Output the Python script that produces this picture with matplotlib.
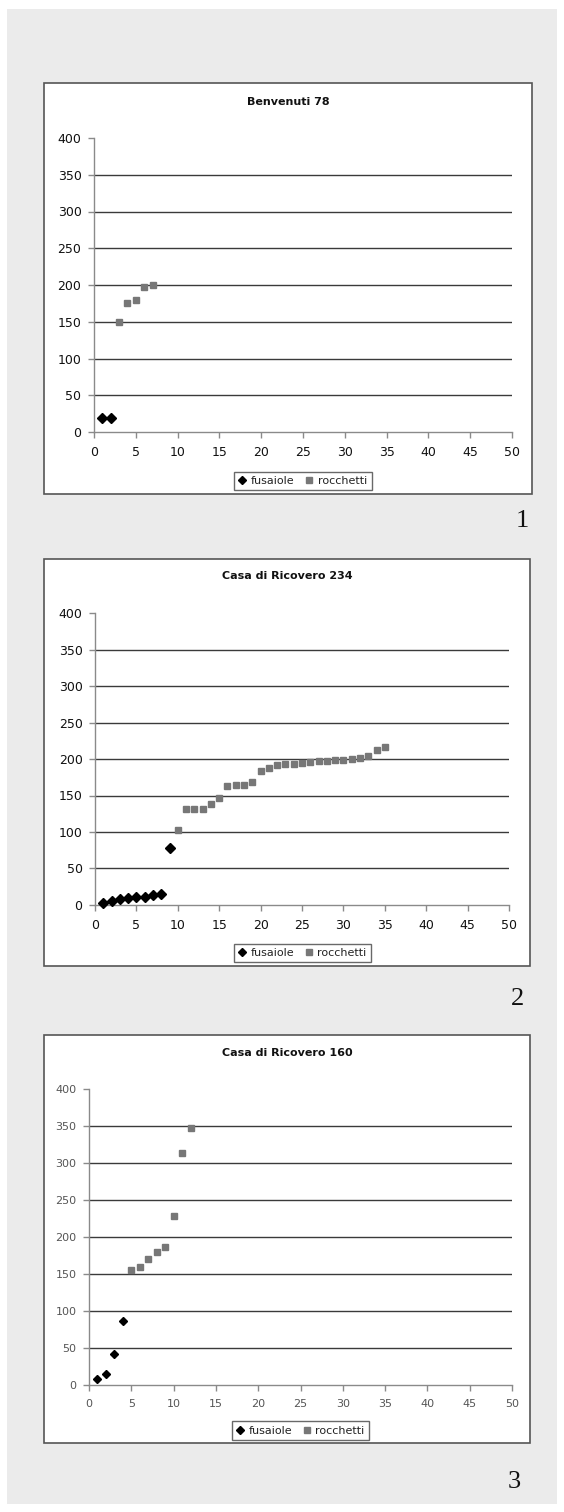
import matplotlib
matplotlib.use("Agg")
import matplotlib.pyplot as plt
from matplotlib.patches import Rectangle
from matplotlib.lines import Line2D

W, H = 564, 1512

# --- data -------------------------------------------------------------
titles = ["Benvenuti 78", "Casa di Ricovero 234", "Casa di Ricovero 160"]
panel_numbers = ["1", "2", "3"]
series_names = ["fusaiole", "rocchetti"]

# Benvenuti 78
b78_fus_x = [1, 2]
b78_fus_y = [19, 19]
b78_roc_x = [3, 4, 5, 6, 7]
b78_roc_y = [149, 175, 179, 197, 200]

# Casa di Ricovero 234
cr234_fus_x = [1, 2, 3, 4, 5, 6, 7, 8, 9]
cr234_fus_y = [3, 6, 8, 9, 11, 11, 14, 15.5, 78]
cr234_roc_x = list(range(10, 36))
cr234_roc_y = [103, 131, 131, 132, 139, 146, 163, 164, 165, 168,
               184, 187, 191.5, 193, 193, 194, 196, 197, 197, 198,
               198, 200, 202, 204, 212, 216]

# Casa di Ricovero 160
cr160_fus_x = [1, 2, 3, 4]
cr160_fus_y = [7.7, 15, 42, 86]
cr160_roc_x = [5, 6, 7, 8, 9, 10, 11, 12]
cr160_roc_y = [156, 159, 170, 180, 186, 228, 314, 347]

x_ticks = list(range(0, 51, 5))
y_ticks = list(range(0, 401, 50))

# --- layout (pixel boxes) --------------------------------------------
frames = [(44, 83, 532, 494), (44, 559, 530, 966), (44, 1035, 530, 1443)]
plot_areas = [(94, 138, 512, 432), (95, 613, 509, 905), (89, 1089, 512, 1385)]
title_pos = [(288, 102), (287, 576), (287, 1053)]
legend_boxes = [(233, 471, 373, 491), (233, 943, 372, 963), (231, 1421, 370, 1440)]
number_pos = [(522, 521), (517, 999), (514, 1482)]
tick_size = [9, 9, 8]
tick_color = ["#111111", "#111111", "#555555"]
fus_ms = [5.0, 5.0, 4.0]
roc_ms = [4.3, 4.3, 4.3]

panels = [
    (b78_fus_x, b78_fus_y, b78_roc_x, b78_roc_y),
    (cr234_fus_x, cr234_fus_y, cr234_roc_x, cr234_roc_y),
    (cr160_fus_x, cr160_fus_y, cr160_roc_x, cr160_roc_y),
]

FONT = "DejaVu Sans"


def fx(x):
    return x / W


def fy(y):
    return 1 - y / H


fig = plt.figure(figsize=(W / 100, H / 100), dpi=100)
fig.patch.set_facecolor("white")

# grey page
fig.patches.append(Rectangle((fx(7), fy(1504)), fx(557) - fx(7), fy(9) - fy(1504),
                             transform=fig.transFigure, facecolor="#ebebeb",
                             edgecolor="none", zorder=0))

for i, (fus_x, fus_y, roc_x, roc_y) in enumerate(panels):
    x0, y0, x1, y1 = frames[i]
    fig.patches.append(Rectangle((fx(x0), fy(y1)), fx(x1) - fx(x0), fy(y0) - fy(y1),
                                 transform=fig.transFigure, facecolor="white",
                                 edgecolor="#555555", linewidth=1.2, zorder=1))

    px0, py0, px1, py1 = plot_areas[i]
    ax = fig.add_axes([fx(px0), fy(py1), fx(px1) - fx(px0), fy(py0) - fy(py1)])
    ax.set_zorder(2)
    ax.set_facecolor("none")
    ax.set_xlim(0, 50)
    ax.set_ylim(0, 400)
    ax.set_xticks(x_ticks)
    ax.set_yticks(y_ticks)
    for s in ["top", "right"]:
        ax.spines[s].set_visible(False)
    for s in ["left", "bottom"]:
        ax.spines[s].set_color("#8a8a8a")
        ax.spines[s].set_linewidth(1.0)
    ax.tick_params(direction="out", length=4, width=1, color="#8a8a8a",
                   labelsize=tick_size[i], labelcolor=tick_color[i])
    ax.tick_params(axis="x", pad=6)
    ax.tick_params(axis="y", pad=5)
    for lab in ax.get_xticklabels() + ax.get_yticklabels():
        lab.set_fontfamily(FONT)

    for gy in y_ticks[1:-1]:
        ax.axhline(gy, color="#3a3a3a", linewidth=1.0, zorder=1)

    ax.plot(fus_x, fus_y, linestyle="none", marker="D", markersize=fus_ms[i],
            color="black", zorder=3, clip_on=False)
    ax.plot(roc_x, roc_y, linestyle="none", marker="s", markersize=roc_ms[i],
            color="#777777", zorder=3, clip_on=False)

    tx, ty = title_pos[i]
    fig.text(fx(tx), fy(ty), titles[i], ha="center", va="center",
             fontsize=8, fontweight="bold", family=FONT, color="#111111")

    # legend
    lx0, ly0, lx1, ly1 = legend_boxes[i]
    handles = [
        Line2D([], [], linestyle="none", marker="D", markersize=4.5, color="black"),
        Line2D([], [], linestyle="none", marker="s", markersize=4, color="#777777"),
    ]
    leg = fig.legend(handles, series_names, loc="center",
                     bbox_to_anchor=(fx((lx0 + lx1) / 2), fy((ly0 + ly1) / 2)),
                     ncol=2, frameon=True, fancybox=False, shadow=False,
                     prop={"family": FONT, "size": 8}, handlelength=0.6,
                     handletextpad=0.5, columnspacing=1.0, borderpad=0.4,
                     borderaxespad=0)
    leg.get_frame().set_edgecolor("#444444")
    leg.get_frame().set_linewidth(1.0)
    for t in leg.get_texts():
        t.set_color("#222222")

    nx, ny = number_pos[i]
    fig.text(fx(nx), fy(ny), panel_numbers[i], ha="center", va="center",
             fontsize=19, family="Liberation Serif", color="#111111")

fig.savefig("out.png", dpi=100, facecolor=fig.get_facecolor())
